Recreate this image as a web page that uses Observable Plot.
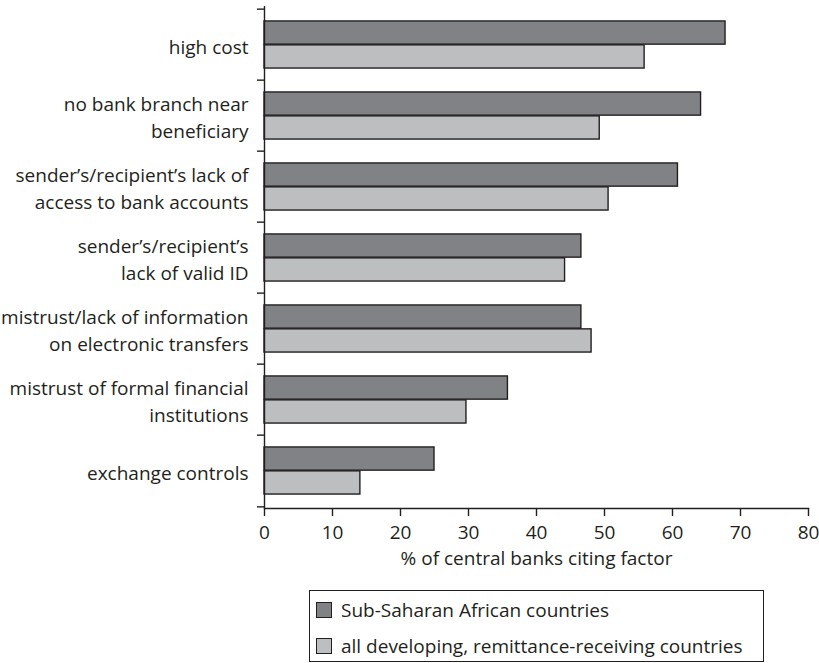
<!DOCTYPE html>
<html><head><meta charset="utf-8">
<script src="https://cdn.jsdelivr.net/npm/d3@7"></script>
<script src="https://cdn.jsdelivr.net/npm/@observablehq/plot@0.6"></script>
<style>
body{margin:0;background:#fff;font-family:"Open Sans",sans-serif;color:#231f20}
#wrap{position:relative;width:819px;height:663px}
#legend{position:absolute;left:309px;top:590px;width:455px;height:72px;box-sizing:border-box;border:1.3px solid #231f20}
.row{position:absolute;left:6px;height:18px;display:flex;align-items:center;font-size:19px;white-space:nowrap}
.sw{width:16px;height:16px;box-sizing:border-box;border:1.3px solid #231f20;margin-right:9px;flex:none}
</style></head><body><div id="wrap"><div id="chart"></div><div id="legend"></div></div>
<script>
const categories = [
  "high cost",
  "no bank branch near\nbeneficiary",
  "sender’s/recipient’s lack of\naccess to bank accounts",
  "sender’s/recipient’s\nlack of valid ID",
  "mistrust/lack of information\non electronic transfers",
  "mistrust of formal financial\ninstitutions",
  "exchange controls"
];
const seriesNames = ["Sub-Saharan African countries", "all developing, remittance-receiving countries"];
const ssaValues = [67.8, 64.2, 60.8, 46.6, 46.6, 35.8, 25.0];
const allValues = [55.9, 49.3, 50.6, 44.2, 48.1, 29.7, 14.1];
const xTicks = [0, 10, 20, 30, 40, 50, 60, 70, 80];
const seriesColors = ["#818285", "#bdbec0"];
const axisTitle = "% of central banks citing factor";

const ink = "#231f20";
const W = 819, H = 580, mT = 6, mB = 72, mL = 264, mR = 11;
const bw = (H - mT - mB) / categories.length;
const rows = categories.flatMap((c, i) => [
  {category: c, series: seriesNames[0], value: ssaValues[i]},
  {category: c, series: seriesNames[1], value: allValues[i]}
]);
const sw = 1.4;
const fs = 19;
const chart = Plot.plot({
  width: W, height: H, marginTop: mT, marginBottom: mB, marginLeft: mL, marginRight: mR,
  style: {fontFamily: "'Open Sans', sans-serif", color: ink, background: "white", overflow: "visible"},
  x: {domain: [0, 80], axis: null},
  y: {domain: categories, padding: 0, axis: null},
  color: {domain: seriesNames, range: seriesColors},
  marks: [
    Plot.barX(rows.filter(d => d.series === seriesNames[0]), {x: "value", y: "category", fill: "series", stroke: ink, strokeWidth: sw, insetTop: bw / 6, insetBottom: bw / 2}),
    Plot.barX(rows.filter(d => d.series === seriesNames[1]), {x: "value", y: "category", fill: "series", stroke: ink, strokeWidth: sw, insetTop: bw / 2, insetBottom: bw / 6}),
    Plot.ruleX([0], {stroke: ink, strokeWidth: sw}),
    Plot.frame({anchor: "bottom", stroke: ink, strokeWidth: sw}),
    Plot.ruleY(categories, {y: d => d, x2: () => 0, insetLeft: -7, dy: -bw / 2, stroke: ink, strokeWidth: sw}),
    Plot.ruleY(categories.slice(-1), {y: d => d, x2: () => 0, insetLeft: -7, dy: bw / 2, stroke: ink, strokeWidth: sw}),
    Plot.axisX({ticks: xTicks, tickSize: 8, tickPadding: 9, fontSize: fs, label: null, stroke: ink, strokeWidth: sw}),
    Plot.text(categories, {y: d => d, frameAnchor: "left", dx: -16, textAnchor: "end", lineHeight: 1.4, fontSize: fs, fill: ink}),
    Plot.text([axisTitle], {frameAnchor: "bottom", dy: 56, fontSize: fs, fill: ink})
  ]
});
document.getElementById("chart").appendChild(chart);

const legend = document.getElementById("legend");
const rowTops = [10, 46];
seriesNames.forEach((name, i) => {
  const row = document.createElement("div");
  row.className = "row";
  row.style.top = rowTops[i] + "px";
  const s = document.createElement("div");
  s.className = "sw";
  s.style.background = seriesColors[i];
  const t = document.createElement("span");
  t.textContent = name;
  row.appendChild(s); row.appendChild(t);
  legend.appendChild(row);
});
</script>
</body></html>
